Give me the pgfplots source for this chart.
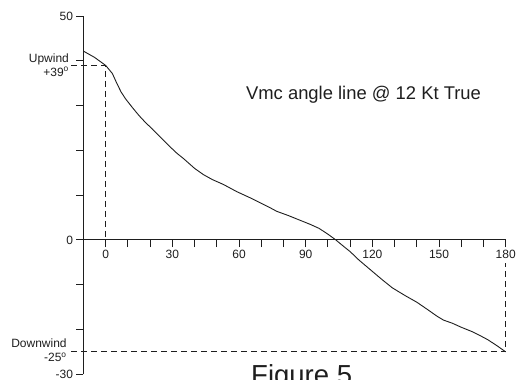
\documentclass[border=0pt]{standalone}
\usepackage{pgfplots}
\pgfplotsset{compat=1.18}
\usepackage{fontspec}
\setmainfont{Liberation Sans}
\definecolor{ink}{RGB}{30,30,30}
\begin{document}
\begin{tikzpicture}
\begin{axis}[name=ax, scale only axis, width=422.2bp, height=358bp,
 xmin=-10, xmax=180, ymin=-30, ymax=50,
 axis x line*=middle, axis y line*=left,
 xtick={0,30,...,180}, minor xtick={10,20,40,50,70,80,100,110,130,140,160,170},
 ytick={-30,0,50}, minor ytick={-20,-10,10,20,30,40},
 tick align=outside, major tick length=7bp, minor tick length=7bp,
 tick style={ink, line width=1bp},
 axis line style={ink, line width=1bp},
 hide obscured x ticks=false, hide obscured y ticks=false,
 ticklabel style={font=\fontsize{12bp}{14bp}\selectfont, text=ink},
 /pgf/number format/assume math mode=true,
 clip=false,
]
\addplot[ink, line width=0.8bp, dash pattern=on 6bp off 4bp] coordinates {(-15.6,39) (0,39) (0,0)};
\addplot[ink, line width=0.8bp, dash pattern=on 6bp off 4bp] coordinates {(-15.6,-25) (180,-25) (180,-5.1)};
\addplot[ink, line width=0.9bp] coordinates {
(-10,42.2) (-5,40.8) (0,39) (3,37.2) (5,35) (7,33) (9,31.5) (12,29.6) (15,27.8) (18,26.2) (21,24.8) (25,22.8) (29,20.8) (32,19.4) (35,18.2) (40,16) (44,14.6) (48,13.5) (53,12.4) (59,10.8) (66,9.2) (70,8.2) (74,7.2) (77,6.4) (82,5.5) (87,4.5) (92,3.5) (96,2.6) (100,1.3) (103.6,0) (106,-1) (110,-2.6) (114,-4.5) (119,-6.6) (124,-8.7) (129,-10.7) (135,-12.5) (140,-13.9) (145,-15.6) (149,-17) (152,-17.9) (156,-18.6) (160,-19.5) (165,-20.5) (169,-21.5) (172,-22.3) (176,-23.6) (180,-25)
};
\node[anchor=base west, inner sep=0, font=\fontsize{18.4bp}{20bp}\selectfont, text=ink] at (axis cs:63.1,31.3) {Vmc angle line @ 12 Kt True};
\node[anchor=base west, inner sep=0, font=\fontsize{27.5bp}{30bp}\selectfont, text=ink] at (axis cs:65.4,-32.4) {Figure 5};
\node[anchor=east, align=right, inner sep=0, font=\fontsize{12bp}{14bp}\selectfont, text=ink] at (axis cs:-16.5,39.1) {Upwind\\+39\textsuperscript{o}};
\node[anchor=east, align=right, inner sep=0, font=\fontsize{12bp}{14bp}\selectfont, text=ink] at (axis cs:-17.5,-24.6) {Downwind\\-25\textsuperscript{o}};
\end{axis}
\pgfresetboundingbox
\path[use as bounding box] ([shift={(-83.5bp,-5.75bp)}]ax.south west) rectangle ([shift={(10.3bp,16.25bp)}]ax.north east);
\end{tikzpicture}
\end{document}
